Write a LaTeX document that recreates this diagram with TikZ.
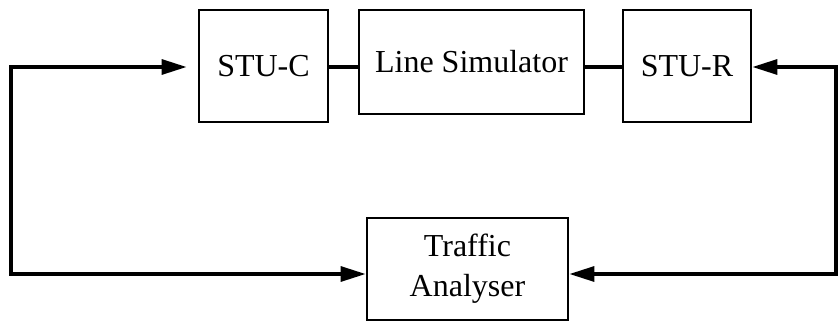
\documentclass[tikz,border=0pt]{standalone}
\usepackage{fontspec}
\setmainfont{Liberation Serif}
\usetikzlibrary{arrows.meta}
\begin{document}
\begin{tikzpicture}[x=1pt,y=-1pt,
  blk/.style={draw, line width=2.8pt, rectangle, inner sep=0pt, align=center,
    font=\fontsize{32}{40}\selectfont},
  conn/.style={line width=3.2pt, line join=miter},
  tip/.tip={Triangle[length=25pt,width=15pt]},
  arr2/.style={conn, tip-tip}]
\useasboundingbox (0,0) rectangle (838,322);
\node[blk, minimum width=129pt, minimum height=112pt] (stuc) at (263.5,66) {STU-C};
\node[blk, minimum width=225pt, minimum height=104pt] (ls) at (471.5,62) {Line Simulator};
\node[blk, minimum width=128pt, minimum height=112pt] (stur) at (687,66) {STU-R};
\node[blk, minimum width=201pt, minimum height=102pt] (ta) at (467.5,269) {Traffic\\Analyser};
\coordinate (lc) at (11,67);
\coordinate (lb) at (11,274);
\coordinate (rc) at (836,67);
\coordinate (rb) at (836,274);
\draw[conn] (stuc.east|-lc) -- (ls.west|-lc);
\draw[conn] (ls.east|-lc) -- (stur.west|-lc);
\draw[arr2, shorten <=11pt] (stuc.west|-lc) -- (lc) -- (lb) -- (ta.west|-lb);
\draw[arr2] (stur.east|-rc) -- (rc) -- (rb) -- (ta.east|-rb);
\end{tikzpicture}
\end{document}
